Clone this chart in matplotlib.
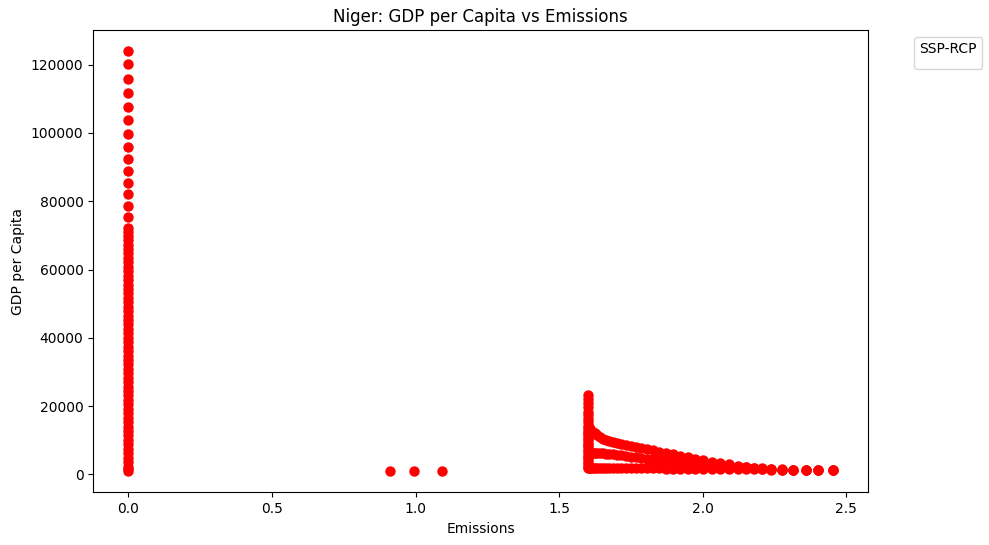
import matplotlib
matplotlib.use("Agg")
import matplotlib.pyplot as plt

# emissions == 0 : GDP per capita values stacked on the y axis
zero_gdp = [124000, 120100, 115700, 111600, 107700, 103700, 99800, 95900, 92400,
            88900, 85400, 82000, 78500, 75400, 72200, 71000, 69800, 68600, 67300,
            66000, 64700, 63400, 62100, 60800, 59500, 58200, 56900, 55600, 54300,
            53000, 51700, 50400, 49100, 47800, 46500, 45200, 43900, 42600, 41300,
            40000, 38700, 37400, 36100, 34800, 33500, 32200, 30900, 29600, 28300,
            27000, 25700, 24400, 23100, 21800, 20500, 19200, 17900, 16600, 15300,
            14000, 12700, 11400, 10100, 8800, 7500, 6200, 4900, 3600, 2300, 1600, 900]

# the three isolated points
mid_em = [0.910, 0.994, 1.091]
mid_gdp = [950, 950, 950]

# column at emissions = 1.6
cap_em = 1.600
cap_gdp = [23200, 22000, 20800, 19600, 18400, 17300, 16200, 15200, 14300, 13500,
           12800, 12100, 11400, 10700, 10000, 9300, 8600, 7900, 7200, 6500, 5800,
           5100, 4400, 3700, 3000, 2300, 1900]

# right cluster
right_em = [1.603, 1.607, 1.612, 1.618, 1.625, 1.633, 1.642, 1.652, 1.663, 1.675,
            1.688, 1.702, 1.717, 1.733, 1.750, 1.768, 1.787, 1.807, 1.828, 1.850,
            1.873, 1.897, 1.922, 1.948, 1.975, 2.003, 2.032, 2.062, 2.093, 2.125,
            2.150, 2.178, 2.208, 2.240, 2.277, 2.316, 2.360, 2.403, 2.454]
upper_gdp = [14000, 13300, 12800, 12400, 12000, 11500, 11000, 10500, 10100, 9800,
             9500, 9200, 8900, 8600, 8300, 8000, 7700, 7350, 7010, 6650,
             6270, 5860, 5430, 5000, 4550, 4080, 3700, 3380, 2960, 2530,
             2200, 1900, 1650, 1450, 1330, 1300, 1280, 1270, 1250]
middle_gdp = [6400, 6400, 6350, 6350, 6300, 6250, 6200, 6150, 6050, 5950,
              5850, 5700, 5550, 5400, 5200, 5000, 4800, 4600, 4400, 4200,
              4000, 3800, 3600, 3400, 3200, 3000, 2800, 2600, 2400, 2200,
              2050, 1900, 1750, 1600, 1450, 1350, 1300, 1280, 1260]
lower_gdp = [1950, 1950, 1940, 1930, 1920, 1910, 1900, 1890, 1880, 1870,
             1860, 1850, 1840, 1830, 1820, 1800, 1780, 1760, 1740, 1720,
             1700, 1680, 1660, 1640, 1620, 1600, 1580, 1560, 1540, 1520,
             1500, 1480, 1450, 1420, 1390, 1360, 1330, 1300, 1260]

fig, ax = plt.subplots(figsize=(9.89, 5.45), dpi=100)
fig.subplots_adjust(left=0.0943, right=0.8777, bottom=0.0967, top=0.945)

size = 42
ax.scatter([0.0] * len(zero_gdp), zero_gdp, color="red", s=size)
ax.scatter(mid_em, mid_gdp, color="red", s=size)
ax.scatter([cap_em] * len(cap_gdp), cap_gdp, color="red", s=size)
ax.scatter(right_em, upper_gdp, color="red", s=size)
ax.scatter(right_em, middle_gdp, color="red", s=size)
ax.scatter(right_em, lower_gdp, color="red", s=size)

ax.set_title("Niger: GDP per Capita vs Emissions")
ax.set_xlabel("Emissions")
ax.set_ylabel("GDP per Capita")
ax.legend(handles=[], title="SSP-RCP", bbox_to_anchor=(1.05, 1), loc="upper left")

fig.savefig("out.png", dpi=100)
